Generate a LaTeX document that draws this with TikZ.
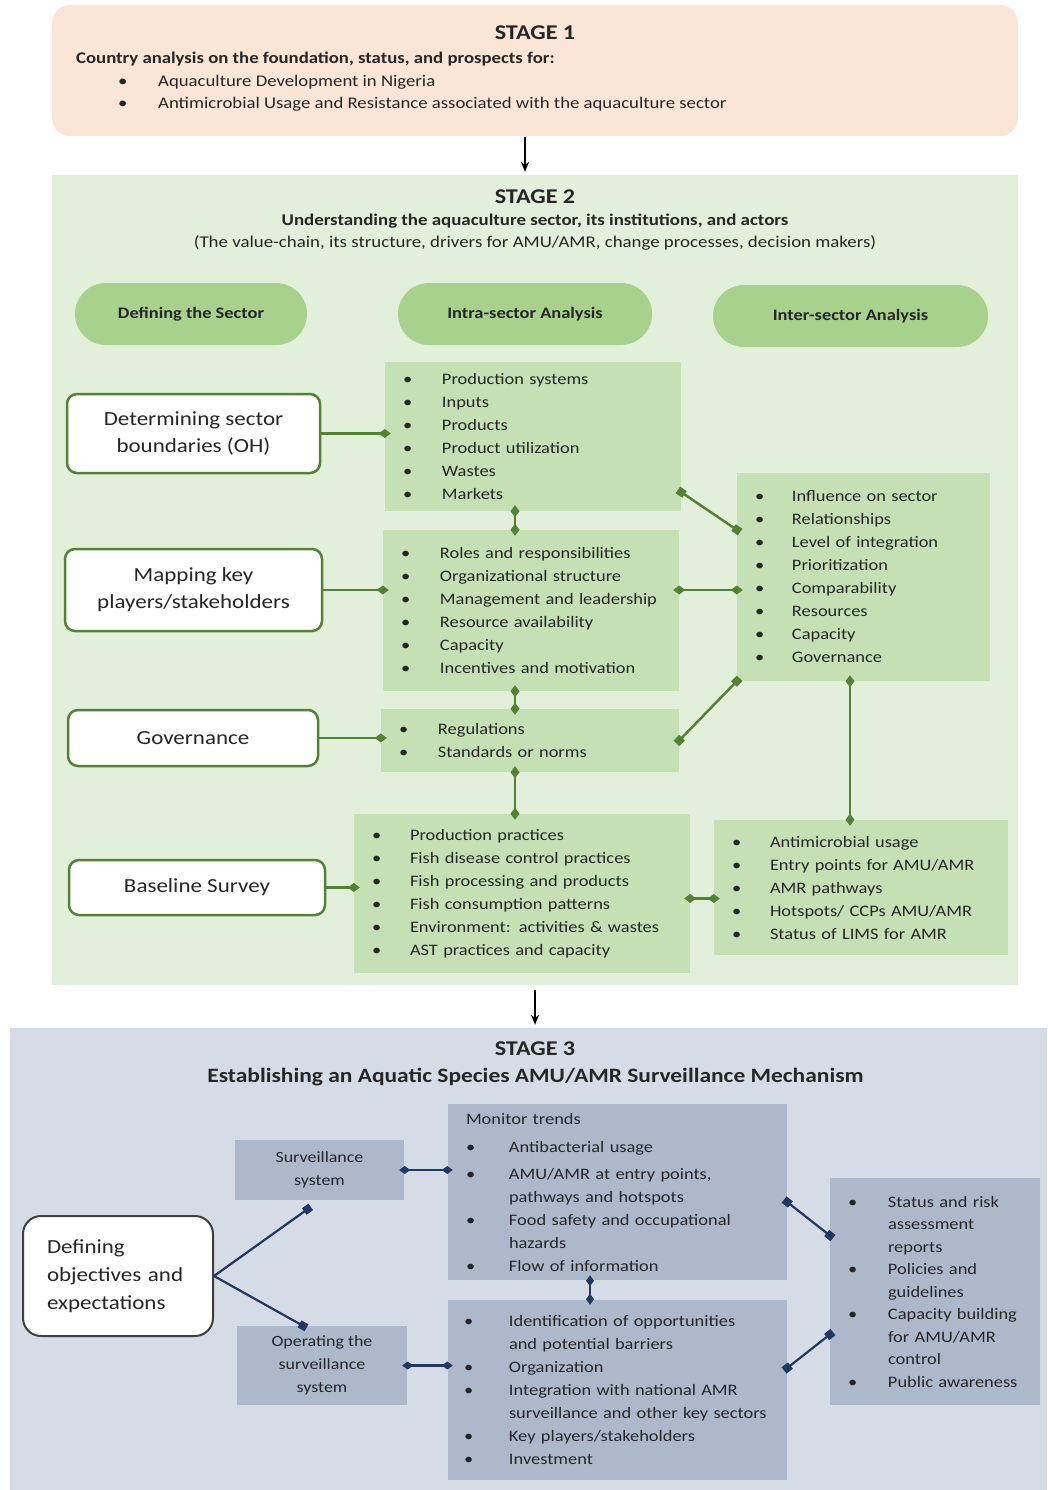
\documentclass[tikz,border=0pt]{standalone}
\usepackage{fontspec}
\setmainfont{Carlito}[FakeStretch=1.15]
\usetikzlibrary{arrows.meta,positioning}

\definecolor{peach}{RGB}{251,229,214}
\definecolor{palegreen}{RGB}{226,239,218}
\definecolor{midgreen}{RGB}{169,209,142}
\definecolor{listgreen}{RGB}{197,224,180}
\definecolor{darkgreen}{RGB}{84,130,53}
\definecolor{paleblue}{RGB}{214,220,229}
\definecolor{greyblue}{RGB}{173,185,202}
\definecolor{navy}{RGB}{31,56,100}
\definecolor{ink}{RGB}{38,38,38}
\definecolor{boxedge}{RGB}{64,64,64}

\newcommand{\bl}[1][39pt]{\makebox[#1][l]{\textbullet}}
\newcommand{\ct}[1][39pt]{\hspace*{#1}}

\tikzset{
  stagebox/.style={inner sep=0pt},
  title/.style={inner sep=0pt, font=\bfseries\fontsize{21}{24}\selectfont},
  oval/.style={fill=midgreen, rounded corners=31pt, minimum height=62pt,
    font=\bfseries\fontsize{16}{20}\selectfont},
  keybox/.style={draw=darkgreen, line width=2.5pt, fill=white, rounded corners=10pt,
    align=center, font=\fontsize{20}{27}\selectfont},
  list/.style={fill=listgreen, inner xsep=18pt, inner ysep=0pt, align=left,
    font=\fontsize{16}{23}\selectfont},
  slist/.style={list, fill=greyblue},
  gline/.style={darkgreen, line width=2.5pt},
  gtip/.style={gline, -{Diamond[length=12pt,width=9pt]}, shorten >=-6pt},
  gboth/.style={gline, {Diamond[length=12pt,width=9pt]}-{Diamond[length=12pt,width=9pt]},
    shorten <=-6pt, shorten >=-6pt},
  gsq/.style={gline, {Square[length=8pt,width=8pt]}-{Square[length=8pt,width=8pt]},
    shorten <=-4pt, shorten >=-4pt},
  nline/.style={navy, line width=2.2pt},
  ntip/.style={nline, -{Square[length=8pt,width=8pt]}, shorten >=-4pt},
  nboth/.style={nline, {Diamond[length=11pt,width=8pt]}-{Diamond[length=11pt,width=8pt]},
    shorten <=-5pt, shorten >=-5pt},
  nsq/.style={nline, {Square[length=8pt,width=8pt]}-{Square[length=8pt,width=8pt]},
    shorten <=-4pt, shorten >=-4pt},
  down/.style={-{Stealth[length=10pt,width=8pt]}, line width=1.6pt, black}
}

\begin{document}
\begin{tikzpicture}[x=1pt, y=-1pt, every node/.append style={text=ink}]
  \useasboundingbox (0,0) rectangle (1047,1490);

  % the three stages
  \node[stagebox, fill=peach, rounded corners=18pt, minimum width=966pt, minimum height=131pt] (st1) at (535,70.5) {};
  \node[stagebox, fill=palegreen, minimum width=966pt, minimum height=810pt] (st2) at (535,580) {};
  \node[stagebox, fill=paleblue, minimum width=1037pt, minimum height=462pt] (st3) at (528.5,1259) {};
  \draw[down, shorten <=1pt, shorten >=3pt] ([xshift=-10pt]st1.south) -- ([xshift=-10pt]st2.north);
  \draw[down, shorten <=5pt, shorten >=3pt] (st2.south) -- (st2.south |- st3.north);

  % stage 1
  \node[title] (s1title) at (535,33) {STAGE 1};
  \node[anchor=west, inner sep=0pt, align=left, font=\fontsize{16.3}{22.5}\selectfont] (s1body) at (76,82)
    {\textbf{Country analysis on the foundation, status, and prospects for:}\\
     \ct[42pt]\bl[40pt]Aquaculture Development in Nigeria\\
     \ct[42pt]\bl[40pt]Antimicrobial Usage and Resistance associated with the aquaculture sector};

  % stage 2
  \node[title] (s2title) at (535,197) {STAGE 2};
  \node[inner sep=0pt, font=\bfseries\fontsize{16.4}{20}\selectfont] (s2sub) at (535,221)
    {Understanding the aquaculture sector, its institutions, and actors};
  \node[inner sep=0pt, font=\fontsize{16.4}{20}\selectfont] (s2note) at (535,243)
    {(The value-chain, its structure, drivers for AMU/AMR, change processes, decision makers)};

  \node[oval, minimum width=232pt] (defsec) at (191,314) {Defining the Sector};
  \node[oval, minimum width=254pt] (intra) at (525,314) {Intra-sector Analysis};
  \node[oval, minimum width=275pt] (inter) at (850.5,316) {Inter-sector Analysis};

  \node[keybox, minimum width=253pt, minimum height=79pt] (det) at (193.5,433.5) {Determining sector\\boundaries (OH)};
  \node[keybox, minimum width=257pt, minimum height=82pt] (mapk) at (193.5,590) {Mapping key\\players/stakeholders};
  \node[keybox, minimum width=250pt, minimum height=56pt] (gov) at (193,738) {Governance};
  \node[keybox, minimum width=256pt, minimum height=55pt] (base) at (197,887.5) {Baseline Survey};

  \node[list, text width=260pt, minimum height=149pt] (boxA) at (533,436.5)
    {\bl Production systems\\ \bl Inputs\\ \bl Products\\ \bl Product utilization\\ \bl Wastes\\ \bl Markets};
  \node[list, text width=260pt, minimum height=161pt] (boxB) at (531,610.5)
    {\bl Roles and responsibilities\\ \bl Organizational structure\\ \bl Management and leadership\\
     \bl Resource availability\\ \bl Capacity\\ \bl Incentives and motivation};
  \node[list, text width=262pt, minimum height=63pt] (boxC) at (530,740.5)
    {\bl Regulations\\ \bl Standards or norms};
  \node[list, text width=300pt, minimum height=159pt] (boxD) at (522,893.5)
    {\bl[38pt]Production practices\\ \bl[38pt]Fish disease control practices\\ \bl[38pt]Fish processing and products\\
     \bl[38pt]Fish consumption patterns\\ \bl[38pt]Environment: activities \& wastes\\ \bl[38pt]AST practices and capacity};
  \node[list, text width=217pt, minimum height=208pt] (boxE) at (863.5,577)
    {\bl[37pt]Influence on sector\\ \bl[37pt]Relationships\\ \bl[37pt]Level of integration\\ \bl[37pt]Prioritization\\
     \bl[37pt]Comparability\\ \bl[37pt]Resources\\ \bl[37pt]Capacity\\ \bl[37pt]Governance};
  \node[list, text width=258pt, minimum height=135pt] (boxF) at (861,887.5)
    {\bl[38pt]Antimicrobial usage\\ \bl[38pt]Entry points for AMU/AMR\\ \bl[38pt]AMR pathways\\
     \bl[38pt]Hotspots/ CCPs AMU/AMR\\ \bl[38pt]Status of LIMS for AMR};

  \coordinate (ccol) at (515,0);
  \coordinate (rcol) at (850,0);
  \draw[gtip] (det.east) -- (det.east -| boxA.west);
  \draw[gtip] (mapk.east) -- (mapk.east -| boxB.west);
  \draw[gtip] (gov.east) -- (gov.east -| boxC.west);
  \draw[gtip] (base.east) -- (base.east -| boxD.west);
  \draw[gboth] (boxA.south -| ccol) -- (boxB.north -| ccol);
  \draw[gboth] (boxB.south -| ccol) -- (boxC.north -| ccol);
  \draw[gboth] (boxC.south -| ccol) -- (boxD.north -| ccol);
  \draw[gsq] ([yshift=19pt]boxA.south east) -- ([yshift=-57pt]boxE.north west);
  \draw[gboth] (mapk.east -| boxB.east) -- (mapk.east -| boxE.west);
  \draw[gsq] (boxC.east) -- (boxE.south west);
  \draw[gboth] (boxE.south -| rcol) -- (boxF.north -| rcol);
  \draw[gboth] ([yshift=-5pt]boxD.east) -- ([yshift=-5pt]boxD.east -| boxF.west);

  % stage 3
  \node[title] (s3title) at (535,1049) {STAGE 3};
  \node[inner sep=0pt, font=\bfseries\fontsize{20.4}{24}\selectfont] (s3sub) at (535.5,1077)
    {Establishing an Aquatic Species AMU/AMR Surveillance Mechanism};

  \node[draw=boxedge, line width=2pt, fill=white, rounded corners=18pt, minimum width=190pt,
    minimum height=120pt, text width=142pt, inner xsep=24pt, align=left,
    font=\fontsize{20}{28}\selectfont] (defn) at (118,1276) {Defining\\objectives and\\expectations};
  \node[fill=greyblue, minimum width=169pt, minimum height=60pt, align=center,
    font=\fontsize{15.6}{23}\selectfont] (surv) at (319.5,1170) {Surveillance\\system};
  \node[fill=greyblue, minimum width=170pt, minimum height=79pt, align=center,
    font=\fontsize{15.6}{23}\selectfont] (oper) at (322,1365.5) {Operating the\\surveillance\\system};

  \node[slist, text width=303pt, minimum height=176pt] (mon) at (617.5,1192)
    {Monitor trends\\[5pt] \bl[43pt]Antibacterial usage\\[4pt] \bl[43pt]AMU/AMR at entry points,\\ \ct[43pt]pathways and hotspots\\
     \bl[43pt]Food safety and occupational\\ \ct[43pt]hazards\\ \bl[43pt]Flow of information};
  \node[slist, inner xsep=16pt, text width=307pt, minimum height=180pt] (ident) at (617.5,1390)
    {\bl[45pt]Identification of opportunities\\ \ct[45pt]and potential barriers\\ \bl[45pt]Organization\\
     \bl[45pt]Integration with national AMR\\ \ct[45pt]surveillance and other key sectors\\
     \bl[45pt]Key players/stakeholders\\ \bl[45pt]Investment};
  \node[slist, text width=174pt, minimum height=227pt, font=\fontsize{16}{22.5}\selectfont] (res) at (935,1291.5)
    {\bl[40pt]Status and risk\\ \ct[40pt]assessment\\ \ct[40pt]reports\\ \bl[40pt]Policies and\\ \ct[40pt]guidelines\\
     \bl[40pt]Capacity building\\ \ct[40pt]for AMU/AMR\\ \ct[40pt]control\\ \bl[40pt]Public awareness};

  \coordinate (scol) at (590,0);
  \draw[ntip] (defn.east) -- ([xshift=-12pt,yshift=-9pt]surv.south);
  \draw[ntip] (defn.east) -- ([xshift=-19pt]oper.north);
  \draw[nboth] (surv.east) -- (surv.east -| mon.west);
  \draw[nboth] (oper.east) -- (oper.east -| ident.west);
  \draw[nboth] (mon.south -| scol) -- (ident.north -| scol);
  \draw[nsq] ([yshift=-10pt]mon.east) -- ([yshift=56pt]res.west);
  \draw[nsq] ([yshift=22pt]ident.east) -- ([yshift=-43pt]res.west);
\end{tikzpicture}
\end{document}
